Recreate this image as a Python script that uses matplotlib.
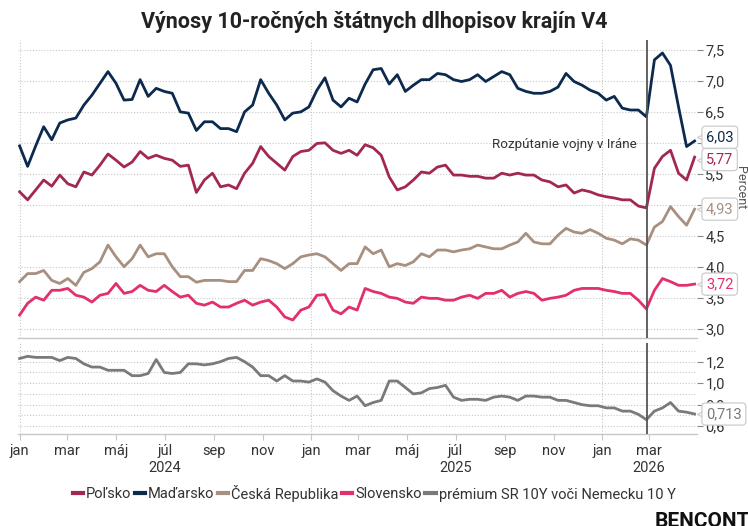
import matplotlib
matplotlib.use('Agg')
import matplotlib.pyplot as plt
import matplotlib.dates as mdates
import matplotlib.transforms as mtransforms
from matplotlib.lines import Line2D
import pandas as pd

plt.rcParams['font.family'] = ['Roboto', 'DejaVu Sans']

# ---------------- data ----------------
dates = pd.date_range('2024-01-01', '2026-04-27', periods=85)

hungary = [5.95, 5.62, 5.95, 6.26, 6.05, 6.32, 6.37, 6.40, 6.61, 6.77, 6.96, 7.15, 6.96, 6.69, 6.70,
           7.02, 6.75, 6.88, 6.83, 6.80, 6.50,
           6.48, 6.20, 6.34, 6.34, 6.23, 6.23, 6.18, 6.50, 6.61, 7.02, 6.80, 6.61, 6.37, 6.48, 6.50,
           6.58, 6.85, 7.05, 6.69, 6.58, 6.72,
           6.66, 6.95, 7.18, 7.20, 6.95, 7.10, 6.83, 6.93, 7.02, 7.02, 7.12, 7.10, 7.02, 6.99, 7.02,
           7.10, 6.99, 7.07, 7.15, 7.10, 6.88, 6.83,
           6.80, 6.80, 6.83, 6.90, 7.12, 6.99, 6.93, 6.85, 6.80, 6.69, 6.75, 6.56, 6.53, 6.53, 6.42,
           7.34, 7.45, 7.25, 6.58, 5.94, 6.03]

poland = [5.21, 5.08, 5.24, 5.40, 5.30, 5.48, 5.34, 5.29, 5.53, 5.48, 5.64, 5.82, 5.72, 5.61, 5.69,
          5.86, 5.75, 5.80, 5.75, 5.72, 5.62,
          5.64, 5.20, 5.40, 5.51, 5.29, 5.32, 5.26, 5.51, 5.67, 5.94, 5.78, 5.67, 5.56, 5.78, 5.86,
          5.88, 5.99, 6.00, 5.88, 5.83, 5.88,
          5.80, 5.97, 5.92, 5.80, 5.45, 5.24, 5.29, 5.40, 5.53, 5.51, 5.61, 5.64, 5.48, 5.48, 5.46,
          5.46, 5.43, 5.43, 5.51, 5.48, 5.51, 5.48,
          5.48, 5.40, 5.37, 5.29, 5.32, 5.19, 5.24, 5.21, 5.16, 5.13, 5.11, 5.08, 5.08, 4.98, 4.95,
          5.59, 5.78, 5.88, 5.51, 5.40, 5.77]

czech = [3.76, 3.89, 3.89, 3.94, 3.78, 3.73, 3.81, 3.70, 3.91, 3.97, 4.08, 4.35, 4.16, 4.00, 4.13,
         4.35, 4.16, 4.21, 4.21, 4.00, 3.84,
         3.84, 3.75, 3.78, 3.78, 3.78, 3.76, 3.76, 3.94, 3.94, 4.13, 4.10, 4.05, 3.97, 4.05, 4.16,
         4.19, 4.21, 4.16, 4.05, 3.94, 4.05,
         4.05, 4.32, 4.21, 4.27, 4.00, 4.05, 4.02, 4.08, 4.21, 4.16, 4.27, 4.27, 4.24, 4.27, 4.29,
         4.35, 4.32, 4.29, 4.29, 4.35, 4.40, 4.54,
         4.40, 4.37, 4.37, 4.51, 4.62, 4.56, 4.54, 4.60, 4.54, 4.46, 4.43, 4.37, 4.45, 4.43, 4.35,
         4.64, 4.73, 4.97, 4.81, 4.67, 4.93]

slovakia = [3.22, 3.41, 3.51, 3.46, 3.62, 3.62, 3.65, 3.54, 3.51, 3.43, 3.54, 3.57, 3.73, 3.57, 3.60,
            3.70, 3.62, 3.60, 3.70, 3.60, 3.51,
            3.54, 3.41, 3.38, 3.43, 3.35, 3.35, 3.41, 3.46, 3.38, 3.43, 3.46, 3.35, 3.19, 3.14, 3.30,
            3.35, 3.54, 3.55, 3.30, 3.24, 3.35,
            3.30, 3.65, 3.60, 3.57, 3.51, 3.49, 3.43, 3.41, 3.51, 3.49, 3.49, 3.46, 3.46, 3.51, 3.54,
            3.49, 3.57, 3.57, 3.62, 3.51, 3.57, 3.60,
            3.57, 3.46, 3.49, 3.51, 3.54, 3.62, 3.65, 3.65, 3.65, 3.62, 3.60, 3.57, 3.57, 3.46, 3.32,
            3.62, 3.81, 3.76, 3.70, 3.70, 3.72]

premium = [1.23, 1.25, 1.24, 1.24, 1.24, 1.21, 1.24, 1.23, 1.18, 1.15, 1.15, 1.12, 1.12, 1.12, 1.07,
           1.07, 1.09, 1.22, 1.10, 1.09, 1.10,
           1.18, 1.18, 1.17, 1.18, 1.20, 1.23, 1.24, 1.20, 1.15, 1.07, 1.07, 1.02, 1.07, 1.02, 1.02,
           1.01, 1.04, 1.01, 0.93, 0.88, 0.84,
           0.88, 0.79, 0.82, 0.84, 1.02, 1.02, 0.96, 0.90, 0.91, 0.95, 0.96, 0.98, 0.87, 0.84, 0.85,
           0.85, 0.84, 0.87, 0.88, 0.87, 0.84, 0.88,
           0.88, 0.87, 0.87, 0.84, 0.84, 0.82, 0.80, 0.79, 0.79, 0.77, 0.77, 0.74, 0.74, 0.71, 0.66,
           0.74, 0.77, 0.82, 0.74, 0.73, 0.713]

series_names = ['Poľsko', 'Maďarsko', 'Česká Republika', 'Slovensko',
                'prémium SR 10Y voči Nemecku 10 Y']
colors = ['#a3284f', '#0b2a4d', '#a89080', '#e1306b', '#7a7a7a']

top_ticks = [3.0, 3.5, 4.0, 4.5, 5.0, 5.5, 6.0, 6.5, 7.0, 7.5]
bottom_grid = [0.6, 0.7, 0.8, 0.9, 1.0, 1.1, 1.2, 1.3]
bottom_ticks = [0.6, 0.8, 1.0, 1.2]
month_names = {1: 'jan', 3: 'mar', 5: 'máj', 7: 'júl', 9: 'sep', 11: 'nov'}
year_labels = [('2024-07-01', '2024'), ('2025-07-01', '2025'), ('2026-03-01', '2026')]
war_date = pd.Timestamp('2026-02-26')
war_text = 'Rozpútanie vojny v Iráne'
title = 'Výnosy 10-ročných štátnych dlhopisov krajín V4'

# ---------------- figure ----------------
W, H = 748, 526
fig = plt.figure(figsize=(W / 100, H / 100), dpi=100)

def fx(px):
    return px / W

def fy(py):
    return 1 - py / H

ax_l, ax_r = 18, 697
ax1 = fig.add_axes([fx(ax_l), fy(338), fx(ax_r - ax_l), (338 - 40) / H])
ax2 = fig.add_axes([fx(ax_l), fy(434), fx(ax_r - ax_l), (434 - 343) / H])

xlim = (pd.Timestamp('2023-12-30'), pd.Timestamp('2026-04-30'))
grid_kw = dict(color='#c8c8c8', lw=0.8, ls=(0, (1, 1.6)))

for ax in (ax1, ax2):
    ax.set_xlim(xlim)
    for s in ['top', 'left', 'right']:
        ax.spines[s].set_visible(False)
    ax.spines['bottom'].set_color('#c8c8c8')
    ax.spines['bottom'].set_linewidth(1.0)
    ax.yaxis.tick_right()
    ax.tick_params(axis='y', length=4, width=0.8, color='#888888', pad=2,
                   labelsize=10.5, labelcolor='#333333')
    for yr in ['2024-01-01', '2025-01-01', '2026-01-01']:
        ax.axvline(pd.Timestamp(yr), zorder=0, **grid_kw)
    ax.axvline(war_date, color='#555555', lw=1.3, zorder=4)

# top panel
ax1.set_ylim(2.85, 7.66)
for v in top_ticks:
    ax1.axhline(v, zorder=0, **grid_kw)
ax1.set_yticks(top_ticks)
ax1.set_yticklabels([f'{v:.1f}'.replace('.', ',') for v in top_ticks])
ax1.set_xticks([])

top_series = [poland, hungary, czech, slovakia]
for vals, c in zip(top_series, colors[:4]):
    ax1.plot(dates, vals, color=c, lw=2.0, solid_joinstyle='round', zorder=3)

# bottom panel
ax2.set_ylim(0.527, 1.374)
for v in bottom_grid:
    ax2.axhline(v, zorder=0, **grid_kw)
ax2.set_yticks(bottom_ticks)
ax2.set_yticklabels([f'{v:.1f}'.replace('.', ',') for v in bottom_ticks])
ax2.plot(dates, premium, color=colors[4], lw=2.0, solid_joinstyle='round', zorder=3)

ax2.xaxis.set_major_locator(mdates.MonthLocator(bymonth=[1, 3, 5, 7, 9, 11]))
ax2.xaxis.set_major_formatter(plt.FuncFormatter(
    lambda x, p: month_names[mdates.num2date(x).month]))
ax2.tick_params(axis='x', length=4, width=0.8, color='#c8c8c8', pad=3,
                labelsize=10.5, labelcolor='#333333')

yt = mtransforms.blended_transform_factory(ax2.transData, fig.transFigure)
for d, lab in year_labels:
    fig.text(mdates.date2num(pd.Timestamp(d)), fy(468), lab, transform=yt,
             ha='center', va='center', fontsize=10.5, color='#333333')

# annotation
ax1.text(mdates.date2num(war_date) - 12, 5.98, war_text, ha='right', va='center',
         fontsize=9.6, color='#333333', zorder=5)

# value boxes
def value_box(ax, ypos, color, text):
    tr = mtransforms.blended_transform_factory(ax.transAxes, ax.transData)
    ax.plot([1.0 + 4 / 679], [ypos], marker='<', ms=6, mfc='white', mec='#cccccc',
            mew=0.9, transform=tr, clip_on=False, zorder=8)
    ax.text(1.0 + 9 / 679, ypos, text, transform=tr, ha='left', va='center',
            fontsize=10.5, color=color, zorder=9, clip_on=False,
            bbox=dict(boxstyle='round,pad=0.28,rounding_size=0.25', fc='white',
                      ec='#cccccc', lw=0.9))

value_box(ax1, 6.09, colors[1], f'{hungary[-1]:.2f}'.replace('.', ','))
value_box(ax1, 5.73, colors[0], f'{poland[-1]:.2f}'.replace('.', ','))
value_box(ax1, czech[-1], colors[2], f'{czech[-1]:.2f}'.replace('.', ','))
value_box(ax1, slovakia[-1], colors[3], f'{slovakia[-1]:.2f}'.replace('.', ','))
value_box(ax2, premium[-1], colors[4], f'{premium[-1]:.3f}'.replace('.', ','))

fig.text(fx(741), fy(188), 'Percent', rotation=270, ha='center', va='center',
         fontsize=9, color='#555555')

fig.text(0.5, fy(22), title, ha='center', va='center', fontsize=15.5,
         fontweight='bold', color='#222222')

handles = [Line2D([0], [0], color=c, lw=3) for c in colors]
fig.legend(handles, series_names, loc='center', bbox_to_anchor=(0.5, fy(493)),
           ncol=5, frameon=False, handlelength=0.7, handletextpad=0.2,
           columnspacing=0.25, fontsize=10.5, labelcolor='#333333')

fig.text(fx(655), fy(512), 'BENCONT', ha='left', va='top', fontsize=15,
         fontweight='bold', color='#111111')

fig.savefig('out.png', dpi=100)
